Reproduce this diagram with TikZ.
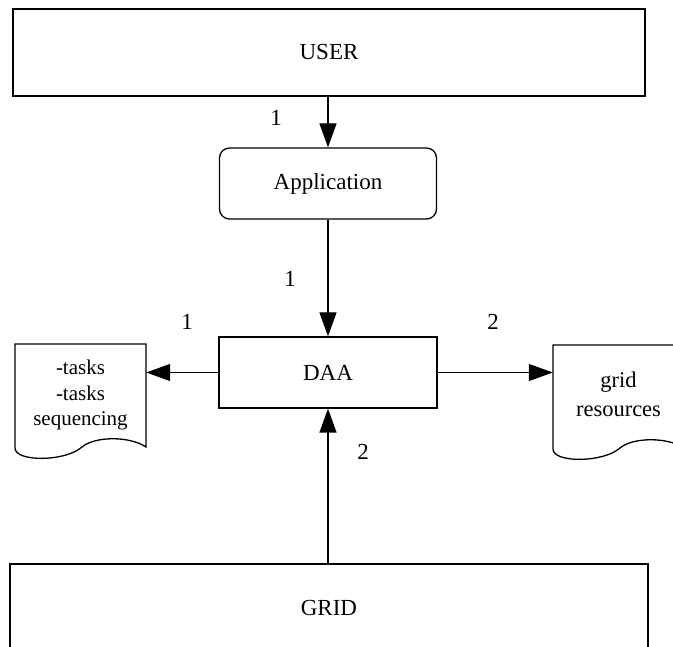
\documentclass[tikz,border=0pt]{standalone}
\usepackage{fontspec}
\setmainfont{Liberation Serif}
\usetikzlibrary{arrows.meta}
\tikzset{
  box/.style={draw, line width=1.3pt, rectangle, inner sep=0pt, font=\fontsize{23}{27}\selectfont},
  rbox/.style={box, rounded corners=10pt},
  doctext/.style={rectangle, inner sep=0pt, align=center, font=\fontsize{21}{25.5}\selectfont},
  rdoctext/.style={doctext, font=\fontsize{22.5}{29}\selectfont},
  docline/.style={line width=1.3pt},
  arr/.style={line width=1.3pt, -{Triangle[length=24pt,width=17pt]}},
  num/.style={inner sep=0pt, font=\fontsize{23}{27}\selectfont},
}
\begin{document}
\begin{tikzpicture}[x=1pt,y=-1pt]
\useasboundingbox (0,0) rectangle (673,647);
\fill[white] (0,0) rectangle (673,647);
\clip (0,0) rectangle (673,647);
% boxes
\node[box, minimum width=632pt, minimum height=87pt] (user) at (329,52.5) {USER};
\node[rbox, minimum width=217pt, minimum height=71pt] (app) at (328,183.5) {Application};
\node[box, minimum width=218pt, minimum height=71pt] (daa) at (328,372.5) {DAA};
\node[box, minimum width=638pt, minimum height=88pt] (grid) at (329,608) {GRID};
% documents
\node[doctext, minimum width=131pt, minimum height=98pt] (ldoc) at (80.5,395) {-tasks\\-tasks\\sequencing};
\node[rdoctext, minimum width=131pt, minimum height=98pt] (rdoc) at (618.5,394) {grid\\resources};
\begin{scope}[shift={(15,344)}]
\draw[docline] (0,0) -- (131,0) -- (131,103) .. controls (115,92) and (80,92) .. (67,103) .. controls (50,118) and (0,118) .. (0,104) -- cycle;
\end{scope}
\begin{scope}[shift={(553,345)}]
\draw[docline] (0,0) -- (131,0) -- (131,103) .. controls (115,92) and (80,92) .. (67,103) .. controls (50,118) and (0,118) .. (0,104) -- cycle;
\end{scope}
% connectors
\draw[arr] (app.north |- user.south) -- (app.north);
\draw[arr] (app.south) -- (daa.north);
\draw[arr] (daa.west) -- (daa.west -| ldoc.east);
\draw[arr] (daa.east) -- (daa.east -| rdoc.west);
\draw[arr] (grid.north -| daa.south) -- (daa.south);
% labels
\node[num] (n1) at (276,118) {1};
\node[num] (n2) at (290,279) {1};
\node[num] (n3) at (187,322) {1};
\node[num] (n4) at (493,322) {2};
\node[num] (n5) at (363,452) {2};
\end{tikzpicture}
\end{document}
